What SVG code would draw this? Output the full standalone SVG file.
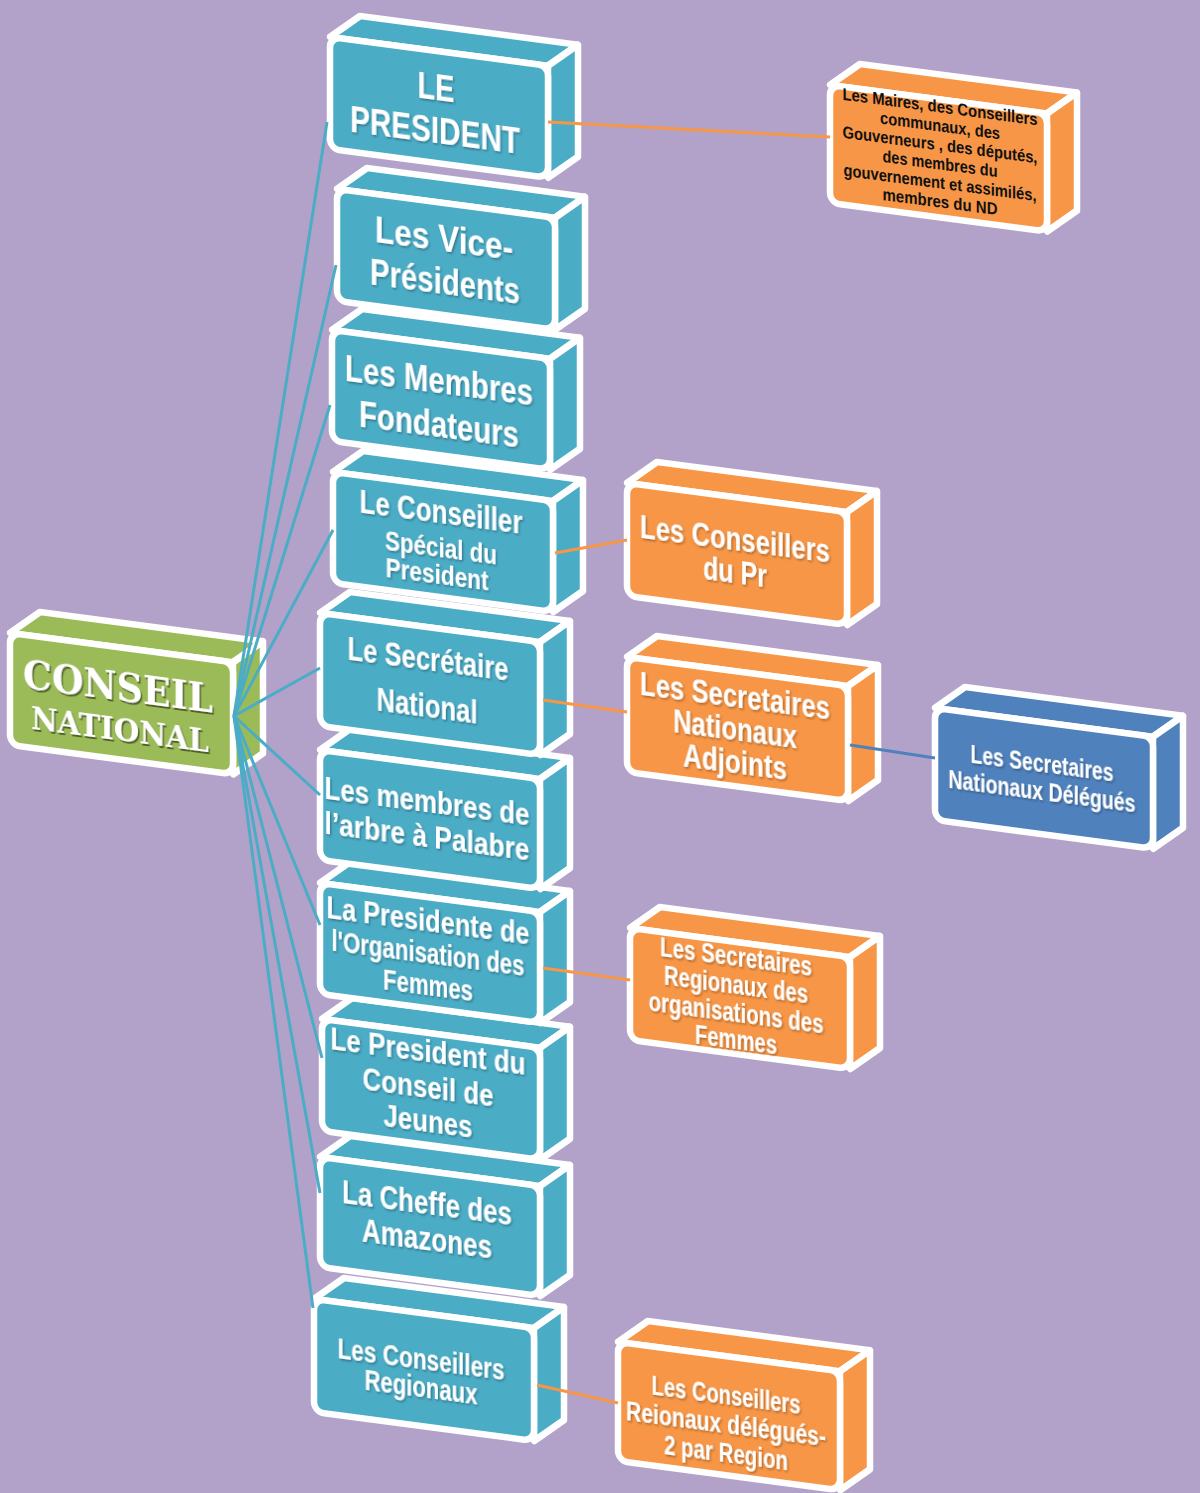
<svg xmlns="http://www.w3.org/2000/svg" width="1200" height="1493" viewBox="0 0 1200 1493">
<defs>
<filter id="sh" x="-10%" y="-20%" width="120%" height="140%"><feDropShadow dx="1.2" dy="1.5" stdDeviation="0.8" flood-color="#000" flood-opacity="0.35"/></filter>
<filter id="sh2" x="-10%" y="-20%" width="120%" height="140%"><feDropShadow dx="1.5" dy="2" stdDeviation="0.6" flood-color="#2f3a12" flood-opacity="0.7"/></filter>
<style>
.f{stroke:#fff;stroke-width:6.5;stroke-linejoin:round}
.bl{fill:#4BACC6}
.or{fill:#F79646}
.gr{fill:#9BBB59}
.db{fill:#4F81BD}
.t{font-family:"Liberation Sans Narrow","Liberation Sans",Arial,sans-serif;font-weight:bold;fill:#fff;text-anchor:middle;filter:url(#sh)}
.k{font-family:"Liberation Sans Narrow","Liberation Sans",Arial,sans-serif;font-weight:bold;fill:#111;text-anchor:middle}
.s{font-family:"DejaVu Serif","Liberation Serif",serif;font-weight:bold;fill:#fff;text-anchor:middle;filter:url(#sh2)}
.cb{stroke:#4BACC6;stroke-width:3;fill:none}
.co{stroke:#F79646;stroke-width:3;fill:none}
.cd{stroke:#4F81BD;stroke-width:3;fill:none}
</style>
</defs>
<rect width="1200" height="1493" fill="#B2A2C9"/>

<g id="n-conseil-national" transform="translate(10,633) skewY(7.5)">
<polygon class="f gr" points="0,0 30,-25 253,-25 223,0"/>
<polygon class="f gr" points="223,0 253,-25 253,87 223,112"/>
<rect class="f gr" width="223" height="112" rx="10"/>
<text class="s" x="108" y="53" font-size="40" textLength="190" lengthAdjust="spacingAndGlyphs">CONSEIL</text>
<text class="s" x="110" y="93" font-size="32" textLength="178" lengthAdjust="spacingAndGlyphs">NATIONAL</text>
</g>

<g id="n-conseillers-regionaux" transform="translate(314,1299) skewY(7.5)">
<polygon class="f bl" points="0,0 30,-25 250,-25 220,0"/>
<polygon class="f bl" points="220,0 250,-25 250,88 220,113"/>
<rect class="f bl" width="220" height="113" rx="10"/>
<text class="t" x="107" y="56" font-size="29" textLength="167" lengthAdjust="spacingAndGlyphs">Les Conseillers</text>
<text class="t" x="107" y="84" font-size="29" textLength="113" lengthAdjust="spacingAndGlyphs">Regionaux</text>
</g>

<g id="n-cheffe-amazones" transform="translate(320,1157) skewY(7.5)">
<polygon class="f bl" points="0,0 30,-25 250,-25 220,0"/>
<polygon class="f bl" points="220,0 250,-25 250,85 220,110"/>
<rect class="f bl" width="220" height="110" rx="10"/>
<text class="t" x="107" y="43" font-size="33" textLength="170" lengthAdjust="spacingAndGlyphs">La Cheffe des</text>
<text class="t" x="107" y="79" font-size="33" textLength="130" lengthAdjust="spacingAndGlyphs">Amazones</text>
</g>

<g id="n-president-jeunes" transform="translate(322,1019) skewY(7.5)">
<polygon class="f bl" points="0,0 30,-25 248,-25 218,0"/>
<polygon class="f bl" points="218,0 248,-25 248,87 218,112"/>
<rect class="f bl" width="218" height="112" rx="10"/>
<text class="t" x="106" y="29" font-size="32" textLength="195" lengthAdjust="spacingAndGlyphs">Le President du</text>
<text class="t" x="106" y="65" font-size="32" textLength="131" lengthAdjust="spacingAndGlyphs">Conseil de</text>
<text class="t" x="106" y="99" font-size="32" textLength="89" lengthAdjust="spacingAndGlyphs">Jeunes</text>
</g>

<g id="n-presidente-femmes" transform="translate(320,883) skewY(7.5)">
<polygon class="f bl" points="0,0 30,-25 250,-25 220,0"/>
<polygon class="f bl" points="220,0 250,-25 250,86 220,111"/>
<rect class="f bl" width="220" height="111" rx="10"/>
<text class="t" x="108" y="34" font-size="31" textLength="203" lengthAdjust="spacingAndGlyphs">La Presidente de</text>
<text class="t" x="108" y="66" font-size="29" textLength="193" lengthAdjust="spacingAndGlyphs">l'Organisation des</text>
<text class="t" x="108" y="98" font-size="29" textLength="90" lengthAdjust="spacingAndGlyphs">Femmes</text>
</g>

<g id="n-arbre-palabre" transform="translate(320,750) skewY(7.5)">
<polygon class="f bl" points="0,0 30,-25 250,-25 220,0"/>
<polygon class="f bl" points="220,0 250,-25 250,85 220,110"/>
<rect class="f bl" width="220" height="110" rx="10"/>
<text class="t" x="107" y="48" font-size="32" textLength="205" lengthAdjust="spacingAndGlyphs">Les membres de</text>
<text class="t" x="107" y="83" font-size="32" textLength="205" lengthAdjust="spacingAndGlyphs">l’arbre à Palabre</text>
</g>

<g id="n-secretaire-national" transform="translate(320,613) skewY(7.5)">
<polygon class="f bl" points="0,0 30,-25 250,-25 220,0"/>
<polygon class="f bl" points="220,0 250,-25 250,88 220,113"/>
<rect class="f bl" width="220" height="113" rx="10"/>
<text class="t" x="108" y="43" font-size="33" textLength="161" lengthAdjust="spacingAndGlyphs">Le Secrétaire</text>
<text class="t" x="107" y="90" font-size="33" textLength="101" lengthAdjust="spacingAndGlyphs">National</text>
</g>

<g id="n-conseiller-special" transform="translate(333,472) skewY(7.5)">
<polygon class="f bl" points="0,0 30,-25 250,-25 220,0"/>
<polygon class="f bl" points="220,0 250,-25 250,86 220,111"/>
<rect class="f bl" width="220" height="111" rx="10"/>
<text class="t" x="108" y="37" font-size="33" textLength="163" lengthAdjust="spacingAndGlyphs">Le Conseiller</text>
<text class="t" x="108" y="71" font-size="28" textLength="112" lengthAdjust="spacingAndGlyphs">Spécial du</text>
<text class="t" x="104" y="98" font-size="28" textLength="103" lengthAdjust="spacingAndGlyphs">President</text>
</g>

<g id="n-membres-fondateurs" transform="translate(332,330) skewY(7.5)">
<polygon class="f bl" points="0,0 30,-25 248,-25 218,0"/>
<polygon class="f bl" points="218,0 248,-25 248,86 218,111"/>
<rect class="f bl" width="218" height="111" rx="10"/>
<text class="t" x="107" y="49" font-size="36" textLength="188" lengthAdjust="spacingAndGlyphs">Les Membres</text>
<text class="t" x="107" y="93" font-size="36" textLength="160" lengthAdjust="spacingAndGlyphs">Fondateurs</text>
</g>

<g id="n-vice-presidents" transform="translate(337,189) skewY(7.5)">
<polygon class="f bl" points="0,0 30,-25 248,-25 218,0"/>
<polygon class="f bl" points="218,0 248,-25 248,87 218,112"/>
<rect class="f bl" width="218" height="112" rx="10"/>
<text class="t" x="107" y="48" font-size="36" textLength="138" lengthAdjust="spacingAndGlyphs">Les  Vice-</text>
<text class="t" x="108" y="91" font-size="36" textLength="150" lengthAdjust="spacingAndGlyphs">Présidents</text>
</g>

<g id="n-le-president" transform="translate(330,37) skewY(7.5)">
<polygon class="f bl" points="0,0 30,-25 248,-25 218,0"/>
<polygon class="f bl" points="218,0 248,-25 248,87 218,112"/>
<rect class="f bl" width="218" height="112" rx="10"/>
<text class="t" x="106" y="49" font-size="37" textLength="37" lengthAdjust="spacingAndGlyphs">LE</text>
<text class="t" x="105" y="92" font-size="37" textLength="170" lengthAdjust="spacingAndGlyphs">PRESIDENT</text>
</g>

<g id="n-maires" transform="translate(830,85) skewY(7.5)">
<polygon class="f or" points="0,0 30,-25 247,-25 217,0"/>
<polygon class="f or" points="217,0 247,-25 247,93 217,118"/>
<rect class="f or" width="217" height="118" rx="10"/>
<text class="k" x="110" y="13" font-size="17" textLength="195" lengthAdjust="spacingAndGlyphs">Les Maires, des Conseillers</text>
<text class="k" x="110" y="32" font-size="17" textLength="120" lengthAdjust="spacingAndGlyphs">communaux, des</text>
<text class="k" x="110" y="51" font-size="17" textLength="195" lengthAdjust="spacingAndGlyphs">Gouverneurs , des députés,</text>
<text class="k" x="110" y="70" font-size="17" textLength="115" lengthAdjust="spacingAndGlyphs">des membres du</text>
<text class="k" x="110" y="89" font-size="17" textLength="193" lengthAdjust="spacingAndGlyphs">gouvernement et assimilés,</text>
<text class="k" x="110" y="108" font-size="17" textLength="115" lengthAdjust="spacingAndGlyphs">membres du ND</text>
</g>

<g id="n-conseillers-pr" transform="translate(627,483) skewY(7.5)">
<polygon class="f or" points="0,0 30,-25 250,-25 220,0"/>
<polygon class="f or" points="220,0 250,-25 250,88 220,113"/>
<rect class="f or" width="220" height="113" rx="10"/>
<text class="t" x="108" y="53" font-size="34" textLength="190" lengthAdjust="spacingAndGlyphs">Les Conseillers</text>
<text class="t" x="108" y="86" font-size="34" textLength="64" lengthAdjust="spacingAndGlyphs">du Pr</text>
</g>

<g id="n-secretaires-adjoints" transform="translate(627,657) skewY(7.5)">
<polygon class="f or" points="0,0 30,-25 251,-25 221,0"/>
<polygon class="f or" points="221,0 251,-25 251,90 221,115"/>
<rect class="f or" width="221" height="115" rx="10"/>
<text class="t" x="108" y="36" font-size="34" textLength="190" lengthAdjust="spacingAndGlyphs">Les Secretaires</text>
<text class="t" x="108" y="69" font-size="34" textLength="124" lengthAdjust="spacingAndGlyphs">Nationaux</text>
<text class="t" x="108" y="102" font-size="34" textLength="104" lengthAdjust="spacingAndGlyphs">Adjoints</text>
</g>

<g id="n-secretaires-delegues" transform="translate(935,708) skewY(7.5)">
<polygon class="f db" points="0,0 30,-25 248,-25 218,0"/>
<polygon class="f db" points="218,0 248,-25 248,87 218,112"/>
<rect class="f db" width="218" height="112" rx="10"/>
<text class="t" x="107" y="50" font-size="26" textLength="143" lengthAdjust="spacingAndGlyphs">Les Secretaires</text>
<text class="t" x="107" y="78" font-size="26" textLength="187" lengthAdjust="spacingAndGlyphs">Nationaux Délégués</text>
</g>

<g id="n-secretaires-regionaux-femmes" transform="translate(630,928) skewY(7.5)">
<polygon class="f or" points="0,0 30,-25 250,-25 220,0"/>
<polygon class="f or" points="220,0 250,-25 250,87 220,112"/>
<rect class="f or" width="220" height="112" rx="10"/>
<text class="t" x="106" y="24" font-size="27" textLength="152" lengthAdjust="spacingAndGlyphs">Les Secretaires</text>
<text class="t" x="106" y="52" font-size="27" textLength="144" lengthAdjust="spacingAndGlyphs">Regionaux des</text>
<text class="t" x="106" y="80" font-size="27" textLength="175" lengthAdjust="spacingAndGlyphs">organisations des</text>
<text class="t" x="106" y="107" font-size="27" textLength="82" lengthAdjust="spacingAndGlyphs">Femmes</text>
</g>

<g id="n-conseillers-reionaux-delegues" transform="translate(618,1342) skewY(7.5)">
<polygon class="f or" points="0,0 30,-25 252,-25 222,0"/>
<polygon class="f or" points="222,0 252,-25 252,94 222,119"/>
<rect class="f or" width="222" height="119" rx="10"/>
<text class="t" x="108" y="48" font-size="27" textLength="149" lengthAdjust="spacingAndGlyphs">Les Conseillers</text>
<text class="t" x="108" y="77" font-size="27" textLength="200" lengthAdjust="spacingAndGlyphs">Reionaux délégués-</text>
<text class="t" x="108" y="106" font-size="27" textLength="124" lengthAdjust="spacingAndGlyphs">2 par Region</text>
</g>

<g id="connectors">
<line class="cb" x1="234" y1="716" x2="327" y2="122"/>
<line class="cb" x1="234" y1="716" x2="336" y2="265"/>
<line class="cb" x1="234" y1="716" x2="330" y2="405"/>
<line class="cb" x1="234" y1="716" x2="333" y2="530"/>
<line class="cb" x1="234" y1="716" x2="320" y2="668"/>
<line class="cb" x1="234" y1="716" x2="320" y2="795"/>
<line class="cb" x1="234" y1="716" x2="320" y2="925"/>
<line class="cb" x1="234" y1="716" x2="322" y2="1058"/>
<line class="cb" x1="234" y1="716" x2="320" y2="1193"/>
<line class="cb" x1="234" y1="716" x2="313" y2="1308"/>
<line class="co" x1="548" y1="122" x2="830" y2="137"/>
<line class="co" x1="555" y1="553" x2="627" y2="540"/>
<line class="co" x1="543" y1="700" x2="627" y2="712"/>
<line class="co" x1="543" y1="968" x2="630" y2="980"/>
<line class="co" x1="537" y1="1385" x2="618" y2="1403"/>
<line class="cd" x1="850" y1="745" x2="935" y2="758"/>
</g>
</svg>
